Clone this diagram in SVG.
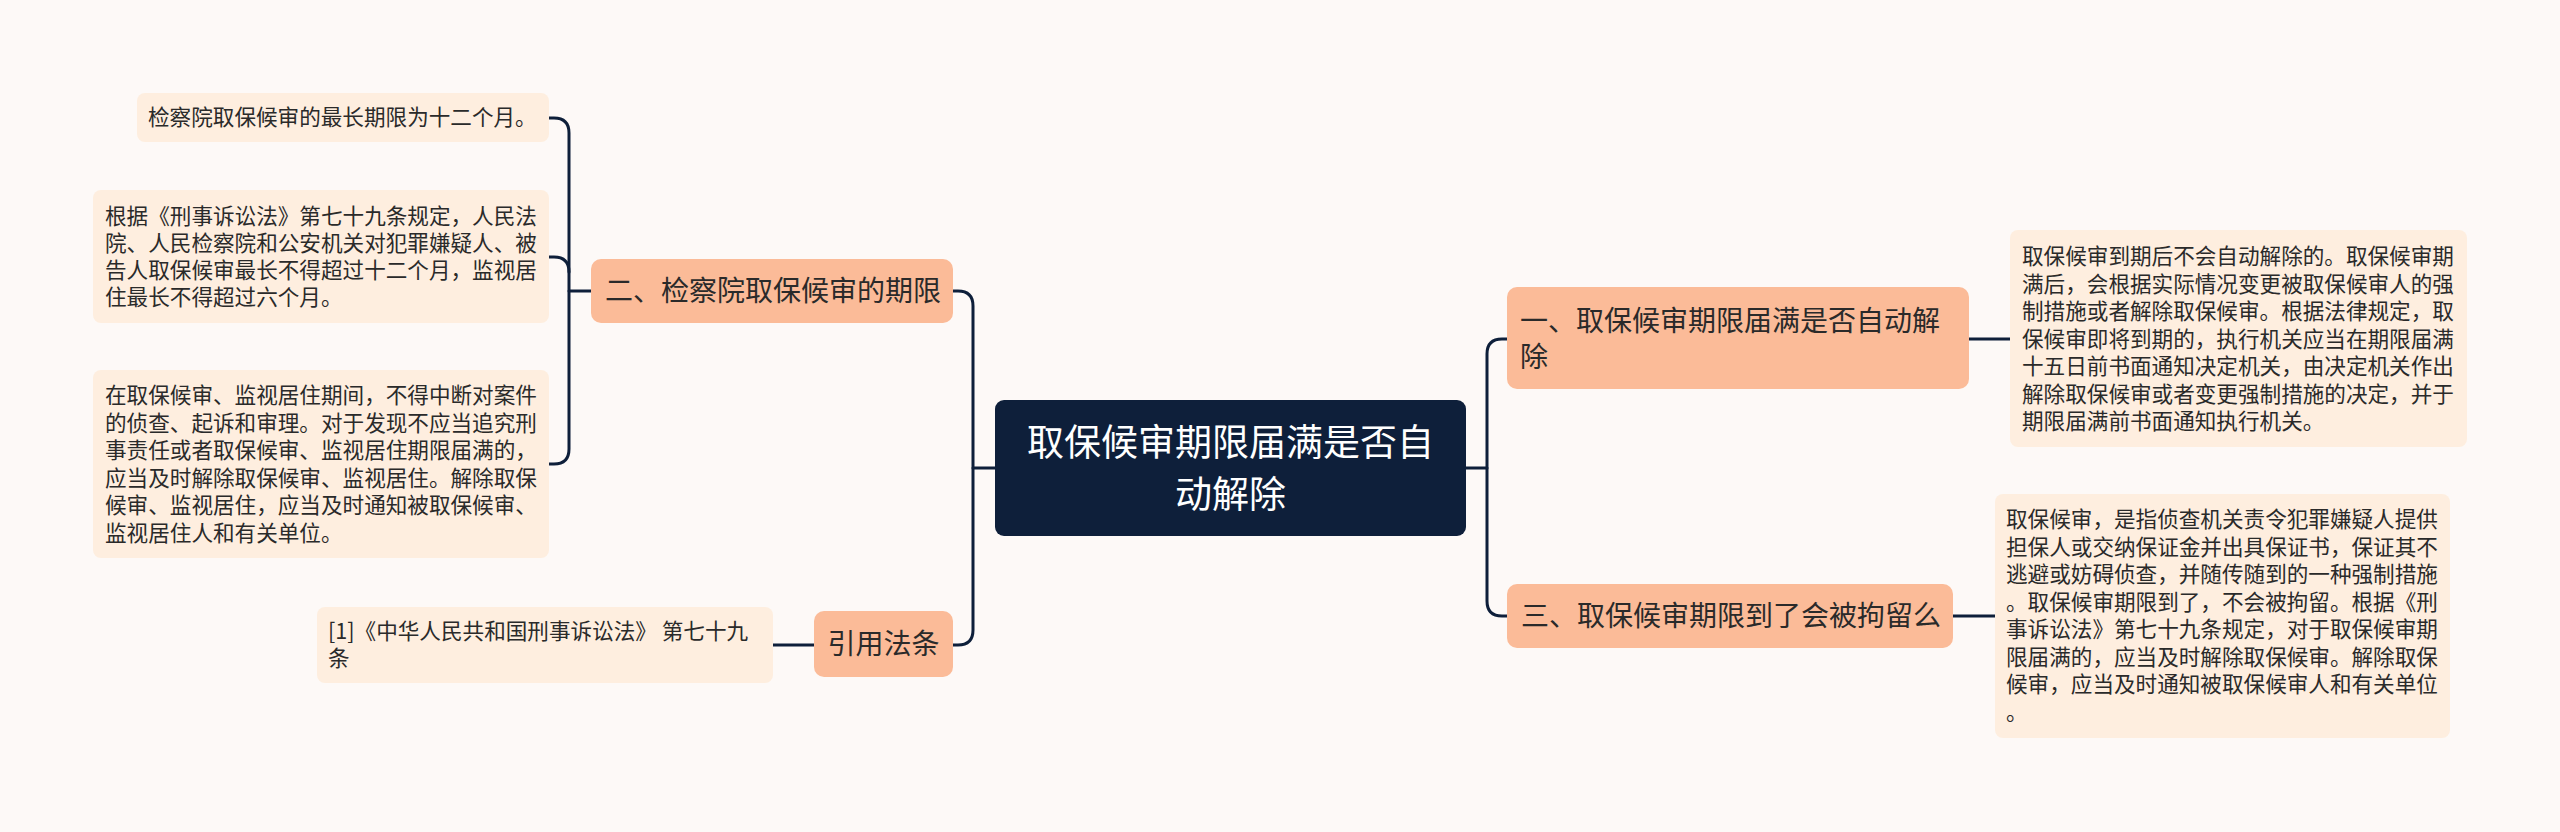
<svg xmlns="http://www.w3.org/2000/svg" width="2560" height="832" viewBox="0 0 2560 832">
<style>
text{font-family:"Noto Sans CJK SC","Noto Sans",sans-serif;}
.leaf rect{fill:#FEEEDF;}
.leaf text{font-size:21.6px;fill:#2a2a2a;}
.branch rect{fill:#FBBB98;}
.branch text{font-size:28px;fill:#2a2a2a;}
.root rect{fill:#0E1F3A;}
.root text{font-size:37px;fill:#ffffff;text-anchor:middle;}
.conn path{fill:none;stroke:#0E1F3A;stroke-width:3;stroke-linecap:round;}
</style>
<rect x="0" y="0" width="2560" height="832" fill="#FDF9F7"/>
<g class="conn" id="connectors">
<path d="M995,468 H973"/>
<path d="M953,291 H958 Q973,291 973,306 V630 Q973,645 958,645 H953"/>
<path d="M1466,468 H1487"/>
<path d="M1507,339 H1502 Q1487,339 1487,354 V601 Q1487,616 1502,616 H1507"/>
<path d="M591,291 H569"/>
<path d="M549,118 H554 Q569,118 569,133 V449 Q569,464 554,464 H549"/>
<path d="M549,257 H554 Q569,257 569,272"/>
<path d="M814,645 H773"/>
<path d="M1969,339 H2010"/>
<path d="M1953,616 H1995"/>
</g>
<g class="root" id="root">
<rect x="995" y="400" width="471" height="136" rx="9"/>
<text><tspan x="1230.5" y="456">取保候审期限届满是否自</tspan><tspan x="1230.5" y="508">动解除</tspan></text>
</g>
<g class="branch" id="b2">
<rect x="591" y="259" width="362" height="64" rx="10"/>
<text x="605" y="301">二、检察院取保候审的期限</text>
</g>
<g class="branch" id="bref">
<rect x="814" y="611" width="139" height="66" rx="10"/>
<text x="883.5" y="654" text-anchor="middle">引用法条</text>
</g>
<g class="branch" id="b1">
<rect x="1507" y="287" width="462" height="102" rx="10"/>
<text><tspan x="1520" y="331">一、取保候审期限届满是否自动解</tspan><tspan x="1520" y="367">除</tspan></text>
</g>
<g class="branch" id="b3">
<rect x="1507" y="584" width="446" height="64" rx="10"/>
<text x="1521" y="626">三、取保候审期限到了会被拘留么</text>
</g>
<g class="leaf" id="l1">
<rect x="137" y="93" width="412" height="49" rx="8"/>
<text x="148" y="125">检察院取保候审的最长期限为十二个月。</text>
</g>
<g class="leaf" id="l2">
<rect x="93" y="190" width="456" height="133" rx="8"/>
<text><tspan x="105" y="223.5">根据《刑事诉讼法》第七十九条规定，人民法</tspan><tspan x="105" y="250.5">院、人民检察院和公安机关对犯罪嫌疑人、被</tspan><tspan x="105" y="277.5">告人取保候审最长不得超过十二个月，监视居</tspan><tspan x="105" y="304.5">住最长不得超过六个月。</tspan></text>
</g>
<g class="leaf" id="l3">
<rect x="93" y="370" width="456" height="188" rx="8"/>
<text><tspan x="105" y="403">在取保候审、监视居住期间，不得中断对案件</tspan><tspan x="105" y="430.5">的侦查、起诉和审理。对于发现不应当追究刑</tspan><tspan x="105" y="458">事责任或者取保候审、监视居住期限届满的，</tspan><tspan x="105" y="485.5">应当及时解除取保候审、监视居住。解除取保</tspan><tspan x="105" y="513">候审、监视居住，应当及时通知被取保候审、</tspan><tspan x="105" y="540.5">监视居住人和有关单位。</tspan></text>
</g>
<g class="leaf" id="l4">
<rect x="317" y="607" width="456" height="76" rx="8"/>
<text><tspan x="328" y="639">[1]《中华人民共和国刑事诉讼法》 第七十九</tspan><tspan x="328" y="666">条</tspan></text>
</g>
<g class="leaf" id="r1">
<rect x="2010" y="230" width="457" height="217" rx="8"/>
<text><tspan x="2022" y="264">取保候审到期后不会自动解除的。取保候审期</tspan><tspan x="2022" y="291.5">满后，会根据实际情况变更被取保候审人的强</tspan><tspan x="2022" y="319">制措施或者解除取保候审。根据法律规定，取</tspan><tspan x="2022" y="346.5">保候审即将到期的，执行机关应当在期限届满</tspan><tspan x="2022" y="374">十五日前书面通知决定机关，由决定机关作出</tspan><tspan x="2022" y="401.5">解除取保候审或者变更强制措施的决定，并于</tspan><tspan x="2022" y="429">期限届满前书面通知执行机关。</tspan></text>
</g>
<g class="leaf" id="r2">
<rect x="1995" y="494" width="455" height="244" rx="8"/>
<text><tspan x="2006" y="527">取保候审，是指侦查机关责令犯罪嫌疑人提供</tspan><tspan x="2006" y="554.5">担保人或交纳保证金并出具保证书，保证其不</tspan><tspan x="2006" y="582">逃避或妨碍侦查，并随传随到的一种强制措施</tspan><tspan x="2006" y="609.5">。取保候审期限到了，不会被拘留。根据《刑</tspan><tspan x="2006" y="637">事诉讼法》第七十九条规定，对于取保候审期</tspan><tspan x="2006" y="664.5">限届满的，应当及时解除取保候审。解除取保</tspan><tspan x="2006" y="692">候审，应当及时通知被取保候审人和有关单位</tspan><tspan x="2006" y="719.5">。</tspan></text>
</g>
</svg>
